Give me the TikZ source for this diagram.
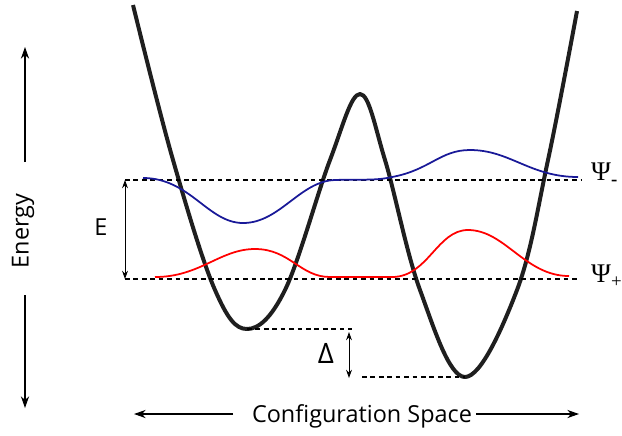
\documentclass[tikz,border=0pt]{standalone}
\usepackage{fontspec}
\setmainfont{Open Sans}
\newfontfamily\psifont{Liberation Serif}
\usetikzlibrary{arrows.meta}
\begin{document}
\begin{tikzpicture}[x=0.03cm, y=-0.03cm,
    level/.style={dash pattern=on 4pt off 3.2pt, line width=0.9pt},
    gap/.style={{Stealth[length=7pt,width=5pt]}-{Stealth[length=7pt,width=5pt]}, line width=0.8pt},
    axis/.style={-{Stealth[length=10pt,width=7pt]}, line width=0.9pt},
    lbl/.style={font=\fontsize{20}{24}\selectfont, inner sep=0pt},
    psilbl/.style={font=\psifont\fontsize{23}{26}\selectfont, inner sep=0pt, anchor=west}]
    \useasboundingbox (0,0) rectangle (622,435);

    % double well potential
    \draw[line width=3.4pt, black!88, line join=round] plot[smooth, tension=0.6] coordinates {
        (133,5) (173,160) (215,290) (247,329) (285,290) (330,160) (360,94)
        (385,160) (420,290) (465,377) (517,290) (548,160) (577,11)};

    % energy levels
    \coordinate (upL) at (125,180);
    \coordinate (upR) at (582,180);
    \coordinate (loL) at (125,279);
    \coordinate (loR) at (580,279);
    \draw[level] (upL) -- (upR);
    \draw[level] (loL) -- (loR);

    % wave functions
    \draw[line width=1.5pt, blue!55!black!90] (143,178)
        .. controls (190,178) and (208,223) .. (243,223)
        .. controls (280,223) and (300,181) .. (335,180)
        .. controls (360,179) and (375,181) .. (392,177)
        .. controls (430,170) and (440,150) .. (470,150)
        .. controls (510,150) and (530,177) .. (578,177);
    \draw[line width=1.5pt, red] (155,277)
        .. controls (200,277) and (220,249) .. (255,249)
        .. controls (290,249) and (300,277) .. (330,277)
        -- (392,277)
        .. controls (428,277) and (437,230) .. (468,230)
        .. controls (505,230) and (525,276) .. (569,276);

    \node[psilbl] (psim) at (591,174) {Ψ\textsubscript{\textbf{-}}};
    \node[psilbl] (psip) at (591,276) {Ψ\textsubscript{+}};

    % splitting E
    \draw[gap] (125,180) -- (125,279);
    \node[lbl] (elab) at (101,227) {E};

    % asymmetry Delta
    \coordinate (mL) at (247,329);
    \coordinate (mLe) at (352,329);
    \coordinate (mR) at (465,377);
    \coordinate (mRs) at (362,377);
    \draw[level] (mL) -- (mLe);
    \draw[level] (mRs) -- (mR);
    \draw[gap] (349,332) -- (349,378);
    \node[lbl, font=\fontsize{24}{26}\selectfont] (dlab) at (326,353) {Δ};

    % axes
    \node[lbl, rotate=90] (energy) at (23,231) {Energy};
    \coordinate (etop) at (25,47);
    \coordinate (ebot) at (25,408);
    \draw[axis] (25,162) -- (etop);
    \draw[axis] (25,295) -- (ebot);

    \node[lbl] (conf) at (362,416) {Configuration Space};
    \coordinate (cleft) at (134,414);
    \coordinate (cright) at (579,414);
    \draw[axis] (233,414) -- (cleft);
    \draw[axis] (476,414) -- (cright);
\end{tikzpicture}
\end{document}
